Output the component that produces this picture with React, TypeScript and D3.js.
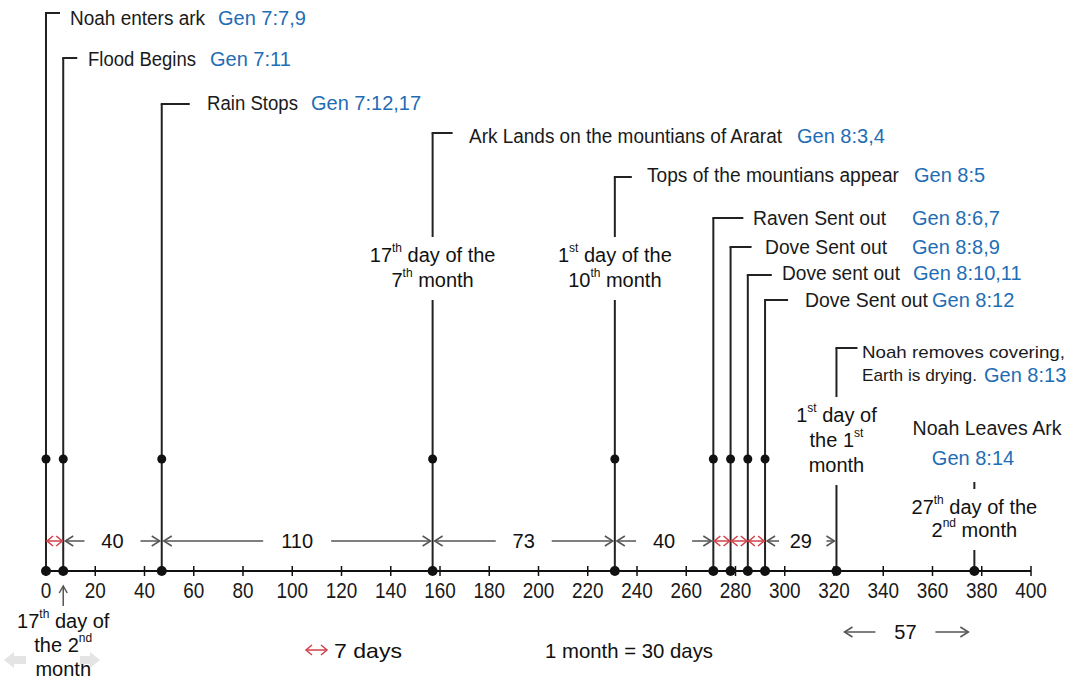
import React from "react";
import * as d3 from "d3";

// ---------- data ----------
const TICK_VALUES = [0, 20, 40, 60, 80, 100, 120, 140, 160, 180, 200, 220, 240, 260, 280, 300, 320, 340, 360, 380, 400];

const EVENT_DAYS = [0, 7, 47, 157, 231, 271, 278, 285, 292, 321, 377];
const EVENT_LABELS = [
  ["Noah enters ark"],
  ["Flood Begins"],
  ["Rain Stops"],
  ["Ark Lands on the mountians of Ararat"],
  ["Tops of the mountians appear"],
  ["Raven Sent out"],
  ["Dove Sent out"],
  ["Dove sent out"],
  ["Dove Sent out"],
  ["Noah removes covering,", "Earth is drying."],
  ["Noah Leaves Ark"],
];
const EVENT_REFS = ["Gen 7:7,9", "Gen 7:11", "Gen 7:12,17", "Gen 8:3,4", "Gen 8:5", "Gen 8:6,7", "Gen 8:8,9", "Gen 8:10,11", "Gen 8:12", "Gen 8:13", "Gen 8:14"];
const UPPER_DOT_DAYS = [0, 7, 47, 157, 231, 271, 278, 285, 292];

const INTERVAL_FROM = [0, 7, 47, 157, 231, 271, 278, 285, 292];
const INTERVAL_TO = [7, 47, 157, 231, 271, 278, 285, 292, 321];
const INTERVAL_LABELS = ["", "40", "110", "73", "40", "", "", "", "29"];
const WEEK_INTERVALS = [true, false, false, false, false, true, true, true, false];

const SPAN_57_FROM = 321;
const SPAN_57_TO = 377;
const SPAN_57_LABEL = "57";

const NOTE_DAYS = [7, 157, 231, 321, 377];
const NOTE_LINES = [
  ["17^th day of", "the 2^nd", "month"],
  ["17^th day of the", "7^th month"],
  ["1^st day of the", "10^th month"],
  ["1^st day of", "the 1^st", "month"],
  ["27^th day of the", "2^nd month"],
];

const LEGEND_WEEK = "7 days";
const LEGEND_MONTH = "1 month = 30 days";

// ---------- layout (pixels) ----------
const W = 1073;
const H = 685;
const AXIS_Y = 571;
const UPPER_DOT_Y = 459;
const INTERVAL_Y = 541;
const SPAN57_Y = 632;

// per event: top of bracket, bracket length, label x, label y, label widths, font size, ref x
const EVENT_LAYOUT = [
  { top: 13, br: 14, lx: 70, ly: 18, lw: [135], fs: 20, rx: 218 },
  { top: 58, br: 14, lx: 88, ly: 59, lw: [108], fs: 20, rx: 210 },
  { top: 104, br: 28, lx: 207, ly: 103, lw: [91], fs: 20, rx: 311 },
  { top: 133, br: 20, lx: 469, ly: 136, lw: [313], fs: 20, rx: 797 },
  { top: 177, br: 17, lx: 647, ly: 175, lw: [252], fs: 20, rx: 914 },
  { top: 218, br: 30, lx: 753, ly: 218, lw: [133], fs: 20, rx: 912 },
  { top: 247, br: 21, lx: 765, ly: 247, lw: [122], fs: 20, rx: 912 },
  { top: 275, br: 24, lx: 782, ly: 273, lw: [118], fs: 20, rx: 913 },
  { top: 300, br: 23, lx: 805, ly: 300, lw: [123], fs: 20, rx: 932 },
  { top: 348, br: 21, lx: 862, ly: 352, lw: [203, 115], fs: 17, rx: 984 },
  { top: 482, br: 0, lx: 987, ly: 428, lw: [149], fs: 20, rx: 973 },
];
// per note: first line center y, line spacing
const NOTE_LAYOUT = [
  { y: 621, dy: 24 },
  { y: 255, dy: 25 },
  { y: 255, dy: 25 },
  { y: 415, dy: 25 },
  { y: 507, dy: 23 },
];

const ARIAL = "'Liberation Sans', Arial, sans-serif";
const BLUE = "#1f6db5";
const RED = "#d0404a";
const GRAY = "#555";
const INK = "#222";

const x = d3.scaleLinear().domain([0, 400]).range([46, 1031]);

function Rich({ text, cx, cy, size = 20, anchor = "middle", fill = "#111", family = ARIAL }: any) {
  const parts = text.split(/(\^\w+)/).filter((p: string) => p.length);
  let shift = 0;
  const kids: any[] = [];
  parts.forEach((p: string, i: number) => {
    if (p.startsWith("^")) {
      kids.push(
        <tspan key={i} fontSize={size * 0.6} dy={-7 - shift}>
          {p.slice(1)}
        </tspan>
      );
      shift = -7;
    } else {
      kids.push(
        <tspan key={i} dy={-shift}>
          {p}
        </tspan>
      );
      shift = 0;
    }
  });
  return (
    <text x={cx} y={cy} fontSize={size} fontFamily={family} fill={fill} textAnchor={anchor} dominantBaseline="central">
      {kids}
    </text>
  );
}

function chevron(tipX: number, y: number, dir: number, s = 8, h = 5) {
  return `M${tipX + dir * s},${y - h}L${tipX},${y}L${tipX + dir * s},${y + h}`;
}

export default function App() {
  const intervals = INTERVAL_FROM.map((f, i) => {
    const x0 = x(f);
    const x1 = x(INTERVAL_TO[i]);
    const label = INTERVAL_LABELS[i];
    const week = WEEK_INTERVALS[i];
    const color = week ? RED : GRAY;
    const paths: string[] = [];
    if (!label) {
      paths.push(`M${x0},${INTERVAL_Y}L${x1},${INTERVAL_Y}`);
      paths.push(chevron(x0 + 1, INTERVAL_Y, 1, 6, 5));
      paths.push(chevron(x1 - 1, INTERVAL_Y, -1, 6, 5));
    } else {
      const cx = (x0 + x1) / 2;
      const gap = label.length * 6 + 16;
      const l = Math.max(cx - gap, x0 + 14);
      const r = Math.min(cx + gap, x1 - 10);
      paths.push(`M${x0 + 2},${INTERVAL_Y}L${l},${INTERVAL_Y}`);
      paths.push(chevron(x0 + 2, INTERVAL_Y, 1));
      paths.push(`M${r},${INTERVAL_Y}L${x1 - 2},${INTERVAL_Y}`);
      paths.push(chevron(x1 - 2, INTERVAL_Y, -1));
    }
    return (
      <g key={i}>
        {paths.map((d, k) => (
          <path key={k} d={d} stroke={color} strokeWidth={1.5} fill="none" />
        ))}
        {label && (
          <text x={(x0 + x1) / 2} y={INTERVAL_Y} fontSize={20} fontFamily={ARIAL} fill="#111" textAnchor="middle" dominantBaseline="central">
            {label}
          </text>
        )}
      </g>
    );
  });

  const s0 = x(SPAN_57_FROM);
  const s1 = x(SPAN_57_TO);
  const sc = (s0 + s1) / 2;

  const noteGap = (i: number) => {
    const L = NOTE_LAYOUT[i];
    return [L.y - 18, L.y + (NOTE_LINES[i].length - 1) * L.dy + 20];
  };

  const eventLines = EVENT_DAYS.map((d, i) => {
    const X = x(d);
    const L = EVENT_LAYOUT[i];
    const ni = NOTE_DAYS.indexOf(d);
    const segs: [number, number][] = [];
    if (ni >= 0 && d !== 7) {
      const [g0, g1] = noteGap(ni);
      if (d === 377) {
        segs.push([L.top, L.top + 7]);
      } else {
        segs.push([L.top, g0]);
      }
      segs.push([g1, AXIS_Y]);
    } else {
      segs.push([L.top, AXIS_Y]);
    }
    return (
      <g key={i}>
        {segs.map(([a, b], k) => (
          <line key={k} x1={X} x2={X} y1={a} y2={b} stroke={INK} strokeWidth={2} />
        ))}
        {L.br > 0 && <line x1={X - 1} x2={X + L.br} y1={L.top} y2={L.top} stroke={INK} strokeWidth={2} />}
      </g>
    );
  });

  const eventTexts = EVENT_DAYS.map((d, i) => {
    const L = EVENT_LAYOUT[i];
    const lines = EVENT_LABELS[i];
    if (d === 377) {
      return (
        <g key={i}>
          <text x={L.lx} y={L.ly} fontSize={L.fs} fontFamily={ARIAL} fill="#1a1a1a" textAnchor="middle" dominantBaseline="central" textLength={L.lw[0]} lengthAdjust="spacingAndGlyphs">
            {lines[0]}
          </text>
          <text x={L.rx} y={L.ly + 30} fontSize={20} fontFamily={ARIAL} fill={BLUE} textAnchor="middle" dominantBaseline="central">
            {EVENT_REFS[i]}
          </text>
        </g>
      );
    }
    return (
      <g key={i}>
        {lines.map((t, k) => (
          <text key={k} x={L.lx} y={L.ly + k * 23} fontSize={L.fs} fontFamily={ARIAL} fill="#1a1a1a" dominantBaseline="central" textLength={L.lw[k]} lengthAdjust="spacingAndGlyphs">
            {t}
          </text>
        ))}
        <text x={L.rx} y={L.ly + (lines.length - 1) * 23} fontSize={20} fontFamily={ARIAL} fill={BLUE} dominantBaseline="central">
          {EVENT_REFS[i]}
        </text>
      </g>
    );
  });

  const notes = NOTE_DAYS.map((d, i) => {
    const L = NOTE_LAYOUT[i];
    return (
      <g key={i}>
        {NOTE_LINES[i].map((t, k) => (
          <Rich key={k} text={t} cx={x(d)} cy={L.y + k * L.dy} />
        ))}
      </g>
    );
  });

  return (
    <svg width={W} height={H} style={{ position: "absolute", left: 0, top: 0, display: "block", background: "#fff" }}>
      <rect width={W} height={H} fill="#fff" />
      {eventLines}
      {eventTexts}
      {notes}
      {intervals}

      {/* axis */}
      <line x1={x(0)} x2={x(400)} y1={AXIS_Y} y2={AXIS_Y} stroke="#111" strokeWidth={2} />
      {TICK_VALUES.map((t) => (
        <g key={t}>
          <line x1={x(t)} x2={x(t)} y1={AXIS_Y - 5} y2={AXIS_Y + 5} stroke="#111" strokeWidth={1.5} />
          <text transform={`translate(${x(t)},${AXIS_Y + 19}) scale(0.86,1)`} fontSize={22} fontFamily={ARIAL} fill="#1a1a1a" textAnchor="middle" dominantBaseline="central">
            {t}
          </text>
        </g>
      ))}

      {/* dots */}
      {UPPER_DOT_DAYS.map((d) => (
        <circle key={"u" + d} cx={x(d)} cy={UPPER_DOT_Y} r={4.5} fill="#111" />
      ))}
      {EVENT_DAYS.map((d) => (
        <circle key={"a" + d} cx={x(d)} cy={AXIS_Y} r={5} fill="#111" />
      ))}

      {/* up arrow under flood begins */}
      <line x1={x(7)} x2={x(7)} y1={586} y2={606} stroke={GRAY} strokeWidth={1.5} />
      <path d={`M${x(7) - 4},${593}L${x(7)},${586}L${x(7) + 4},${593}`} stroke={GRAY} strokeWidth={1.5} fill="none" />

      {/* 57 span */}
      <path d={`M${s0 + 8},${SPAN57_Y}L${sc - 30},${SPAN57_Y}`} stroke={GRAY} strokeWidth={1.5} />
      <path d={chevron(s0 + 8, SPAN57_Y, 1)} stroke={GRAY} strokeWidth={1.5} fill="none" />
      <path d={`M${sc + 30},${SPAN57_Y}L${s1 - 6},${SPAN57_Y}`} stroke={GRAY} strokeWidth={1.5} />
      <path d={chevron(s1 - 6, SPAN57_Y, -1)} stroke={GRAY} strokeWidth={1.5} fill="none" />
      <text x={sc} y={SPAN57_Y} fontSize={20} fontFamily={ARIAL} fill="#111" textAnchor="middle" dominantBaseline="central">
        {SPAN_57_LABEL}
      </text>

      {/* legend */}
      <g>
        <path d={`M306,650L327,650`} stroke={RED} strokeWidth={1.5} />
        <path d={chevron(306, 650, 1, 6, 5)} stroke={RED} strokeWidth={1.5} fill="none" />
        <path d={chevron(327, 650, -1, 6, 5)} stroke={RED} strokeWidth={1.5} fill="none" />
        <text x={334} y={650} fontSize={21} fontFamily={ARIAL} fill="#111" dominantBaseline="central" textLength={68} lengthAdjust="spacingAndGlyphs">
          {LEGEND_WEEK}
        </text>
        <text x={545} y={650} fontSize={21} fontFamily={ARIAL} fill="#111" dominantBaseline="central" textLength={168} lengthAdjust="spacingAndGlyphs">
          {LEGEND_MONTH}
        </text>
      </g>

      {/* faint slideshow nav arrows */}
      <path d="M4,660L14,652L14,656L26,656L26,664L14,664L14,668Z" fill="#e4e4e4" />
      <path d="M100,660L90,652L90,656L80,656L80,664L90,664L90,668Z" fill="#e4e4e4" />
    </svg>
  );
}
